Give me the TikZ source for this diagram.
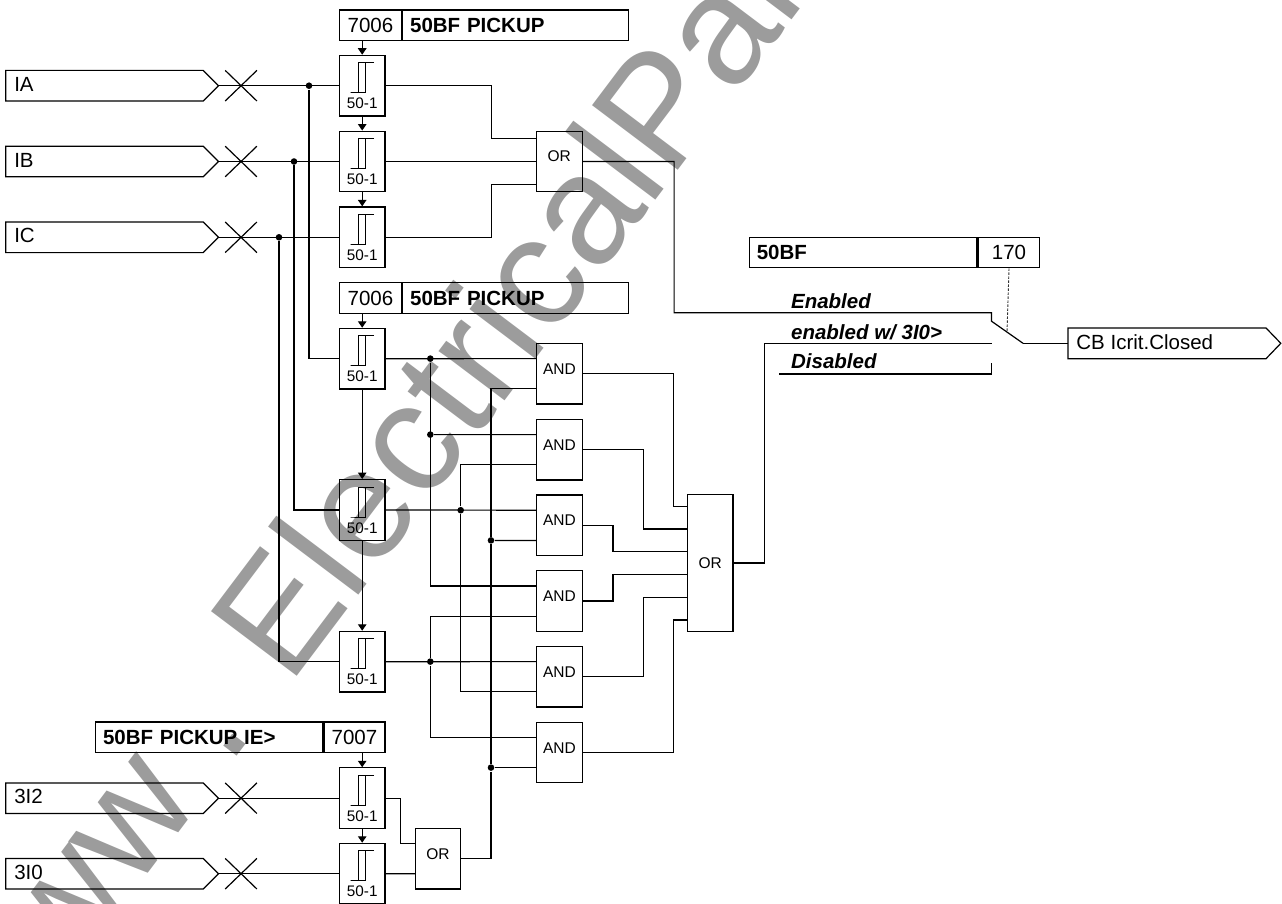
\documentclass[tikz,border=0pt]{standalone}
\usepackage{fontspec}
\setmainfont{Liberation Sans}
\usetikzlibrary{arrows.meta,calc}

\begin{document}
\begin{tikzpicture}[x=1pt,y=-1pt,line width=1.2pt,
    sigtext/.style={inner sep=0pt,font=\fontsize{20.5}{20.5}\selectfont},
    cell/.style={draw,minimum height=30.6pt,inner xsep=7.5pt,inner ysep=0pt,align=left,text height=14.5pt,text depth=0pt,font=\fontsize{20.5}{20.5}\selectfont},
    boldcell/.style={cell,font=\fontsize{20.5}{20.5}\selectfont\bfseries},
    gatebox/.style={draw,minimum width=45.6pt,inner sep=0pt,font=\fontsize{15.5}{15.5}\selectfont},
    dot/.style={circle,fill=black,inner sep=0pt,minimum size=6.6pt},
    arr/.style={-{Triangle[length=6.5pt,width=8.5pt]}},
    modetext/.style={anchor=west,inner sep=0pt,font=\fontsize{20.5}{20.5}\selectfont\bfseries\itshape},
    pics/timer/.style={code={
        \node[draw,minimum width=45.6pt,minimum height=60.7pt,inner sep=0pt] (-box) at (0,0) {};
        \node[inner sep=0pt,font=\fontsize{15.3}{15.3}\selectfont] (-txt) at (0,18) {50-1};
        \draw[line width=1pt] (11.8,-23) -- (-3.5,-23) -- (-3.5,7) -- (-11.5,7) -- (3.1,7) -- (3.1,-23);
    }},
    pics/gate/.style={code={
        \node[gatebox,minimum height=60.7pt,text height=11pt,text depth=10pt] (-box) at (0,0) {#1};
        \coordinate (-a) at (-22.8,-15.1);
        \coordinate (-b) at (-22.8,15.1);
    }},
    pics/inflag/.style={code={
        \draw (0,-15.3) -- (197.5,-15.3) -- (212.8,0) -- (197.5,15.3) -- (0,15.3) -- cycle;
        \node[sigtext,anchor=west] (-txt) at (8,-1.5) {#1};
        \draw (219.5,-15.3) -- (251.2,15.3);
        \draw (219.5,15.3) -- (251.2,-15.3);
        \coordinate (-tip) at (212.8,0);
    }}]
    \useasboundingbox (0,0) rectangle (1282,904);

    % Watermark behind the logic
    \begin{scope}
        \clip (0,0) rectangle (1282,904);
        \node[anchor=base west,rotate=53,inner sep=0pt,text=black!39,font=\fontsize{156}{156}\selectfont] (wmark) at (-1,1072) {www . ElectricalPartManuals . com};
    \end{scope}

    % Input signals
    \pic (fA) at (5.7,85.7) {inflag=IA};
    \pic (fB) at (5.7,161.5) {inflag=IB};
    \pic (fC) at (5.7,237.3) {inflag=IC};
    \pic (fN) at (5.7,798.2) {inflag=3I2};
    \pic (fZ) at (5.7,873.7) {inflag=3I0};

    % Setting boxes
    \node[cell,minimum width=62pt] (numA) at (370.4,25.3) {7006};
    \node[boldcell,anchor=west,text width=211pt] (setA) at (numA.east) {50BF PICKUP};
    \node[cell,minimum width=62pt] (numB) at (370.4,298) {7006};
    \node[boldcell,anchor=west,text width=211pt] (setB) at (numB.east) {50BF PICKUP};
    \node[cell,minimum width=61pt] (numC) at (354.5,737.3) {7007};
    \node[boldcell,anchor=east,text width=212.3pt] (setC) at (numC.west) {50BF PICKUP IE>};
    \node[boldcell,anchor=west,text width=212.7pt] (setD) at (748.7,252.5) {50BF};
    \node[cell,anchor=west,minimum width=61.6pt] (numD) at (setD.east) {170};

    % Pickup stages
    \pic (tA) at (362.2,85.7) {timer};
    \pic (tB) at (362.2,161.5) {timer};
    \pic (tC) at (362.2,237.3) {timer};
    \pic (tD) at (362.2,358.7) {timer};
    \pic (tE) at (362.2,510) {timer};
    \pic (tF) at (362.2,661.7) {timer};
    \pic (tG) at (362.2,798.2) {timer};
    \pic (tH) at (362.2,873.7) {timer};

    \draw[arr] (tA-box.north |- numA.south) -- (tA-box.north);
    \draw[arr] (tA-box.south) -- (tB-box.north);
    \draw[arr] (tB-box.south) -- (tC-box.north);
    \draw[arr] (tD-box.north |- numB.south) -- (tD-box.north);
    \draw[arr] (tD-box.south) -- (tE-box.north);
    \draw[arr] (tE-box.south) -- (tF-box.north);
    \draw[arr] (tG-box.north |- numC.south) -- (tG-box.north);
    \draw[arr] (tG-box.south) -- (tH-box.north);

    % Gates
    \pic (orA) at (559.3,161.5) {gate=OR};
    \pic (and1) at (559.5,373.7) {gate=AND};
    \pic (and2) at (559.5,449.7) {gate=AND};
    \pic (and3) at (559.5,525.3) {gate=AND};
    \pic (and4) at (559.5,601) {gate=AND};
    \pic (and5) at (559.5,676.7) {gate=AND};
    \pic (and6) at (559.5,752.5) {gate=AND};
    \pic (orC) at (438,858.7) {gate=OR};
    \node[gatebox,minimum height=136.3pt] (orB) at (710.2,563) {OR};

    % Current inputs
    \node[dot] (dotIA) at (309,85.7) {};
    \node[dot] (dotIB) at (294,161.5) {};
    \node[dot] (dotIC) at (279,237.3) {};
    \draw (fA-tip) -- (tA-box.west);
    \draw (fB-tip) -- (tB-box.west);
    \draw (fC-tip) -- (tC-box.west);
    \draw (fN-tip) -- (tG-box.west);
    \draw (fZ-tip) -- (tH-box.west);
    \draw (dotIA) |- (tD-box.west);
    \draw (dotIB) |- (tE-box.west);
    \draw (dotIC) |- (tF-box.west);

    % First OR
    \coordinate (orAa) at ($(orA-box.west)+(0,-22.7)$);
    \coordinate (orAc) at ($(orA-box.west)+(0,22.7)$);
    \draw (tA-box.east) -- ++(105.6,0) |- (orAa);
    \draw (tB-box.east) -- (orA-box.west);
    \draw (tC-box.east) -- ++(105.6,0) |- (orAc);

    % Logic matrix
    \node[dot] (dotA) at (430.3,358.6) {};
    \node[dot] (dotB) at (430.3,434.6) {};
    \node[dot] (dotC) at (460.7,510.2) {};
    \node[dot] (dotD) at (430.3,661.6) {};
    \node[dot] (dotE) at (491,540.4) {};
    \node[dot] (dotF) at (491,767.6) {};
    \draw (tD-box.east) -- (and1-a);
    \draw (tE-box.east) -- (and3-a);
    \draw (tF-box.east) -- (and5-a);
    \draw (dotA) |- (and4-a);
    \draw (dotB) -- (and2-a);
    \draw (and2-b) -| (dotC) |- (and5-b);
    \draw (and4-b) -| (dotD) |- (and6-a);
    \draw (and1-b) -| (dotE) -- (dotF) |- (orC-box.east);
    \draw (dotE) -- (and3-b);
    \draw (dotF) -- (and6-b);

    % Ground current branch
    \draw (tG-box.east) -- ++(15,0) |- (orC-a);
    \draw (tH-box.east) -- (orC-b);

    % Into the large OR
    \coordinate (orB1) at ($(orB.west)+(0,-56.5)$);
    \coordinate (orB2) at ($(orB.west)+(0,-34)$);
    \coordinate (orB3) at ($(orB.west)+(0,-11.3)$);
    \coordinate (orB4) at ($(orB.west)+(0,11.8)$);
    \coordinate (orB5) at ($(orB.west)+(0,34.3)$);
    \coordinate (orB6) at ($(orB.west)+(0,57)$);
    \draw (and1-box.east) -- ++(90.7,0) |- (orB1);
    \draw (and2-box.east) -- ++(60.4,0) |- (orB2);
    \draw (and3-box.east) -- ++(30,0) |- (orB3);
    \draw (and4-box.east) -- ++(30,0) |- (orB4);
    \draw (and5-box.east) -- ++(60.4,0) |- (orB5);
    \draw (and6-box.east) -- ++(90.7,0) |- (orB6);

    % Mode switch
    \coordinate (swEn) at (991.5,312.7);
    \coordinate (swW) at (991.5,343.3);
    \coordinate (swDis) at (991.5,374);
    \coordinate (swArm) at (1023,343.3);
    \coordinate (swLink) at (1007,331.7);
    \coordinate (swDisL) at (779.4,374);
    \draw (orA-box.east) -- ++(91.4,0) |- (swEn) -- ++(0,8.5) -- (swArm);
    \draw (orB.east) -- ++(31,0) |- (swW);
    \draw (swDisL) -- (swDis) -- ++(0,-11.3);
    \draw[line width=0.9pt,black!80,dash pattern=on 2.5pt off 1.5pt] (numD.south) -- (swLink);
    \node[modetext] (modeA) at (790.5,301.5) {Enabled};
    \node[modetext] (modeB) at (790.5,332.5) {enabled w/ 3I0>};
    \node[modetext] (modeC) at (790.5,361) {Disabled};

    % Output signal
    \draw (1068,328) -- (1266,328) -- (1280.8,343.3) -- (1266,358.7) -- (1068,358.7) -- cycle;
    \node[sigtext,anchor=west] (outTxt) at (1075.8,342) {CB Icrit.Closed};
    \coordinate (outEnd) at (1068,343.3);
    \draw (swArm) -- (outEnd);
\end{tikzpicture}
\end{document}
